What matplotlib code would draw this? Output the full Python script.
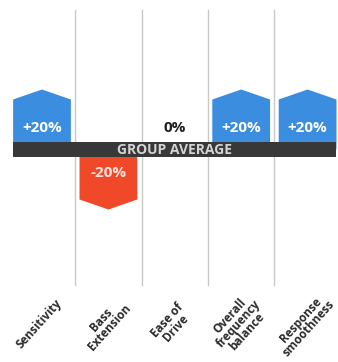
import matplotlib
matplotlib.use("Agg")
import matplotlib.pyplot as plt
from matplotlib.patches import Polygon, Rectangle

categories = ["Sensitivity", "Bass\nExtension", "Ease of\nDrive",
              "Overall\nfrequency\nbalance", "Response\nsmoothness"]
values = [20, -20, 0, 20, 20]
value_labels = ["+20%", "-20%", "0%", "+20%", "+20%"]

BLUE = "#3b8de0"
RED = "#f0492a"
BAND = "#383838"
FONT = "Open Sans"

W, H = 338, 362
fig = plt.figure(figsize=(W / 100, H / 100), dpi=100)
ax = fig.add_axes([0, 0, 1, 1])

# pixel geometry -> data scale
px_per_cat = 66.4
x0_px = 42
px_per_pct = 3.0
y0_px = 149.5
ax.set_xlim(-x0_px / px_per_cat, (W - x0_px) / px_per_cat)
ax.set_ylim((y0_px - H) / px_per_pct, y0_px / px_per_pct)
ax.axis("off")

def px_x(p):
    return p / px_per_cat

def px_y(p):
    return p / px_per_pct

# separators between columns
for i in range(len(categories) - 1):
    ax.plot([i + 0.5, i + 0.5], [px_y(y0_px - 10), px_y(y0_px - 285)],
            color="#c9c9c9", lw=1.0, zorder=1)

bar_w = 0.87
chev = px_y(10)
for i, v in enumerate(values):
    if v == 0:
        continue
    s = 1 if v > 0 else -1
    l, r = i - bar_w / 2, i + bar_w / 2
    pts = [(l, 0), (l, v - s * chev), (i, v), (r, v - s * chev), (r, 0)]
    ax.add_patch(Polygon(pts, closed=True, facecolor=BLUE if v > 0 else RED,
                         edgecolor="none", zorder=2))

# group average band
band_h = px_y(15)
left = -bar_w / 2
right = len(categories) - 1 + bar_w / 2
ax.add_patch(Rectangle((left, -band_h / 2), right - left, band_h,
                       facecolor=BAND, edgecolor="none", zorder=3))
ax.text((left + right) / 2, 0, "GROUP AVERAGE", ha="center", va="center",
        color="#d4d4d4", fontsize=10, fontweight="bold", family=FONT, zorder=4)

# value labels
for i, (v, lab) in enumerate(zip(values, value_labels)):
    if v > 0:
        y, c = px_y(y0_px - 128), "white"
    elif v < 0:
        y, c = px_y(y0_px - 173), "#fbe3dc"
    else:
        y, c = px_y(y0_px - 128), "#1e1e1e"
    ax.text(i, y, lab, ha="center", va="center", color=c, fontsize=11,
            fontweight="bold", family=FONT, zorder=4)

# category labels
for i, cat in enumerate(categories):
    ax.text(i - px_x(3), px_y(y0_px - 324), cat, rotation=48,
            rotation_mode="anchor", ha="center", va="center",
            multialignment="center", color="#2b2b2b", fontsize=8.5,
            fontweight="bold", family=FONT, linespacing=0.85)

fig.savefig("out.png", dpi=100, facecolor="white")
